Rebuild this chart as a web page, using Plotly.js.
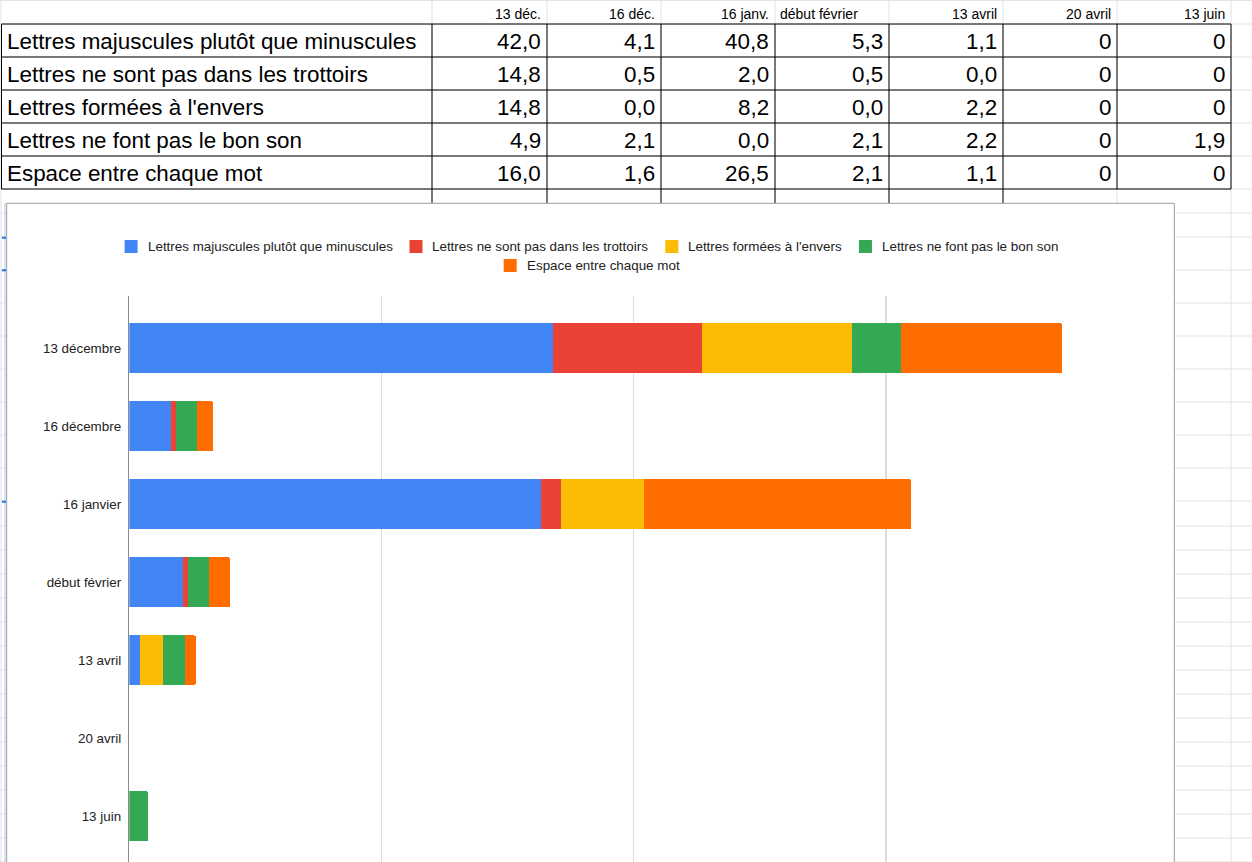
<!DOCTYPE html>
<html>
<head>
<meta charset="utf-8">
<script src="https://cdn.plot.ly/plotly-3.0.1.min.js"></script>
<style>
  html, body { margin: 0; padding: 0; background: #ffffff; }
  #chart { width: 1252px; height: 862px; }
</style>
</head>
<body>
<div id="chart"></div>
<script>
// ---------------- DATA ----------------
const tableHeaders = ['13 déc.', '16 déc.', '16 janv.', 'début février', '13 avril', '20 avril', '13 juin'];
const categories = ['13 décembre', '16 décembre', '16 janvier', 'début février', '13 avril', '20 avril', '13 juin'];
const seriesNames = [
  'Lettres majuscules plutôt que minuscules',
  'Lettres ne sont pas dans les trottoirs',
  "Lettres formées à l'envers",
  'Lettres ne font pas le bon son',
  'Espace entre chaque mot'
];
const majuscules = [42.0, 4.1, 40.8, 5.3, 1.1, 0, 0];
const trottoirs  = [14.8, 0.5, 2.0, 0.5, 0.0, 0, 0];
const envers     = [14.8, 0.0, 8.2, 0.0, 2.2, 0, 0];
const bonSon     = [4.9, 2.1, 0.0, 2.1, 2.2, 0, 1.9];
const espace     = [16.0, 1.6, 26.5, 2.1, 1.1, 0, 0];
const oneDecimalFormat = [true, true, true, true, true, false, false];
const seriesValues = [majuscules, trottoirs, envers, bonSon, espace];

// ---------------- STYLE / LAYOUT CONSTANTS ----------------
const colors = ['#4285F4', '#EA4335', '#FBBC04', '#34A853', '#FF6D01'];
const W = 1252, H = 862;
const FONT = 'Liberation Sans, Arial, sans-serif';
const px = x => x / W;
const py = y => 1 - y / H;

const colBounds = [432, 547, 661, 775, 889, 1003, 1117, 1231];
const rowBounds = [24, 57, 90, 123, 156, 189];
const sheetRows = [0.5, 24, 57, 90, 123, 156, 189, 213, 237, 270, 303, 336, 369, 402, 435, 468, 501,
  526, 550, 574, 598, 622, 646, 670, 694, 718, 742, 766, 790, 814, 838, 862];
const sheetCols = [1, 432, 547, 661, 775, 889, 1003, 1117, 1231];
const GRAY = '#e2e2e2';

const chartBox = {x0: 6.7, y0: 203.3, x1: 1174.3, y1: 900};
const plotLeft = 129.3, plotRight = 1138, plotTop = 295.7;
const catStart = 348.3, catStep = 78;

function fmt(v, oneDec) {
  const s = oneDec ? v.toFixed(1) : String(v);
  return s.replace('.', ',');
}

const shapes = [];
const annotations = [];

function line(x0, y0, x1, y1, color, width, layer) {
  shapes.push({type: 'line', xref: 'paper', yref: 'paper',
    x0: px(x0), y0: py(y0), x1: px(x1), y1: py(y1),
    line: {color: color, width: width}, layer: layer || 'below'});
}

// spreadsheet grid
sheetRows.forEach(y => line(0, y, W, y, GRAY, 1));
sheetCols.forEach(x => line(x, 0, x, H, GRAY, 1));

// table black borders
rowBounds.forEach(y => line(1.5, y, 1231, y, '#000000', 1));
line(1.5, 24, 1.5, 189, '#000000', 1);
colBounds.forEach(x => line(x, 24, x, 189, '#000000', 1));
colBounds.slice(0, 6).forEach(x => line(x, 189, x, 203, '#000000', 1));

// left edge selection marks
line(5, 203, 5, H, '#c9d9f5', 1.5);
[237.7, 270.3, 501.7].forEach(y => line(2, y, 6, y, '#1a73e8', 2));

// chart container
shapes.push({type: 'rect', xref: 'paper', yref: 'paper',
  x0: px(chartBox.x0), y0: py(chartBox.y0), x1: px(chartBox.x1), y1: py(chartBox.y1),
  fillcolor: '#ffffff', line: {color: '#9e9e9e', width: 1}, layer: 'below'});

// table header texts
tableHeaders.forEach((h, j) => {
  const isDate = /^\d/.test(h);
  annotations.push({xref: 'paper', yref: 'paper',
    x: px(isDate ? colBounds[j + 1] - 4 : colBounds[j] + 3), y: py(14),
    xanchor: isDate ? 'right' : 'left', yanchor: 'middle', showarrow: false,
    text: h, font: {family: FONT, size: 14, color: '#000000'}});
});

// table body
seriesNames.forEach((name, i) => {
  const yc = (rowBounds[i] + rowBounds[i + 1]) / 2 + 1;
  annotations.push({xref: 'paper', yref: 'paper', x: px(5), y: py(yc),
    xanchor: 'left', yanchor: 'middle', showarrow: false, text: name,
    font: {family: FONT, size: 22.4, color: '#000000'}});
  seriesValues[i].forEach((v, j) => {
    annotations.push({xref: 'paper', yref: 'paper', x: px(colBounds[j + 1] - 4), y: py(yc),
      xanchor: 'right', yanchor: 'middle', showarrow: false, text: fmt(v, oneDecimalFormat[j]),
      font: {family: FONT, size: 22.4, color: '#000000'}});
  });
});

// legend (manual, centred rows like the original)
const LEG_FONT = 13.4;
const ctx = document.createElement('canvas').getContext('2d');
ctx.font = LEG_FONT + 'px "Liberation Sans", Arial, sans-serif';
const legendRows = [[0, 1, 2, 3], [4]];
const legendRowY = [246.5, 265.5];
const centreX = (chartBox.x0 + chartBox.x1) / 2;
const SQ = 13, SQGAP = 8, ITEMGAP = 19;
legendRows.forEach((row, r) => {
  const widths = row.map(i => SQ + SQGAP + ctx.measureText(seriesNames[i]).width);
  const total = widths.reduce((a, b) => a + b, 0) + ITEMGAP * (row.length - 1);
  let x = centreX - total / 2;
  const yc = legendRowY[r];
  row.forEach((i, k) => {
    shapes.push({type: 'rect', xref: 'paper', yref: 'paper',
      x0: px(x), x1: px(x + SQ), y0: py(yc - 6.5), y1: py(yc + 6.5),
      fillcolor: colors[i], line: {width: 0}, layer: 'above'});
    annotations.push({xref: 'paper', yref: 'paper', x: px(x + SQ + SQGAP), y: py(yc),
      xanchor: 'left', yanchor: 'middle', showarrow: false, text: seriesNames[i],
      font: {family: FONT, size: LEG_FONT, color: '#222222'}});
    x += widths[k] + ITEMGAP;
  });
});

// ---------------- TRACES ----------------
const traces = seriesNames.map((name, i) => ({
  type: 'bar', orientation: 'h', name: name,
  x: seriesValues[i], y: categories,
  marker: {color: colors[i], line: {width: 0}},
  showlegend: false, hoverinfo: 'x+name'
}));

const yTop = (plotTop - catStart) / catStep;
const yBottom = (H - catStart) / catStep;

const layout = {
  width: W, height: H,
  margin: {l: 0, r: 0, t: 0, b: 0, pad: 0},
  paper_bgcolor: '#ffffff', plot_bgcolor: 'rgba(0,0,0,0)',
  barmode: 'stack', bargap: 1 - 50 / 78, barcornerradius: 2,
  showlegend: false,
  font: {family: FONT, size: 13.4, color: '#222222'},
  xaxis: {domain: [px(plotLeft), px(plotRight)], range: [0, 100], dtick: 25, tick0: 0,
    showgrid: true, gridcolor: '#dcdcdc', gridwidth: 1.5, zeroline: false,
    showticklabels: false, showline: false, fixedrange: true},
  yaxis: {domain: [0, py(plotTop)], type: 'category', range: [yBottom, yTop],
    showgrid: false, zeroline: false, showline: true, linecolor: '#8a8a8a', linewidth: 1.5,
    ticks: '', ticklabelstandoff: 4, tickfont: {family: FONT, size: 13.4, color: '#222222'},
    fixedrange: true},
  shapes: shapes,
  annotations: annotations
};

Plotly.newPlot('chart', traces, layout, {displayModeBar: false, staticPlot: true});
</script>
</body>
</html>
